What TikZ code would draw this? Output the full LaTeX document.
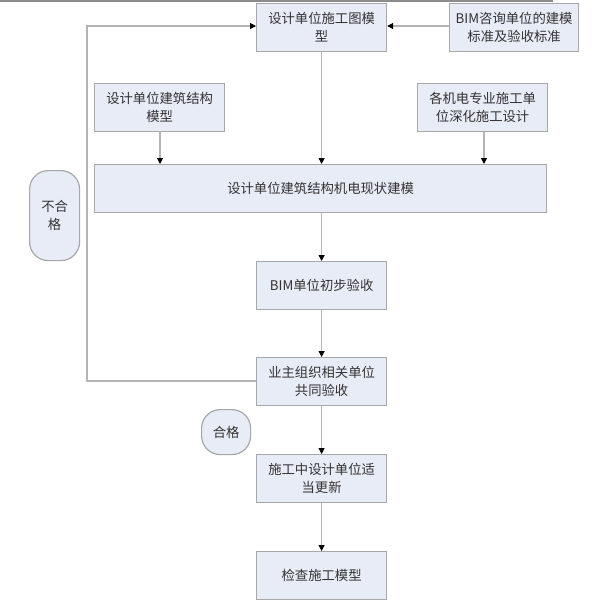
\documentclass[tikz,border=0pt]{standalone}
\usepackage{fontspec}
\newfontfamily\cjk{Noto Sans CJK SC}
\usetikzlibrary{arrows.meta}
\definecolor{boxfill}{HTML}{E8ECF7}
\definecolor{boxline}{HTML}{A8A8A8}
\definecolor{conn}{HTML}{B4B4B4}
\tikzset{
  px/.style={x=0.75pt,y=-0.75pt},
  stepbox/.style={draw=boxline,fill=boxfill,line width=0.9pt,inner sep=0pt,align=center,
    font=\cjk\fontsize{10pt}{13.5pt}\selectfont,text=black!80},
  pill/.style={stepbox,rounded corners=14pt},
  link/.style={draw=conn,line width=0.8pt,-{Triangle[length=4.5pt,width=4.5pt,fill=black,color=black]}},
  plain/.style={draw=conn,line width=0.8pt}
}
\begin{document}
\begin{tikzpicture}[px]
\useasboundingbox (0,0) rectangle (601,606);
\fill[white] (0,0) rectangle (601,606);
\draw[draw=black!45,line width=1.2pt] (0,0.8) -- (553,0.8);
% boxes: corners given in pixels
\node[stepbox,minimum width=130*0.75pt,minimum height=48*0.75pt,anchor=north west] (A) at (256,3) {设计单位施工图模\\型};
\node[stepbox,minimum width=129*0.75pt,minimum height=48*0.75pt,anchor=north west] (B) at (449,3) {BIM咨询单位的建模\\标准及验收标准};
\node[stepbox,minimum width=130*0.75pt,minimum height=48*0.75pt,anchor=north west] (C) at (94,83) {设计单位建筑结构\\模型};
\node[stepbox,minimum width=130*0.75pt,minimum height=48*0.75pt,anchor=north west] (D) at (417,83) {各机电专业施工单\\位深化施工设计};
\node[stepbox,minimum width=452*0.75pt,minimum height=48*0.75pt,anchor=north west] (E) at (94,164) {设计单位建筑结构机电现状建模};
\node[stepbox,minimum width=130*0.75pt,minimum height=48*0.75pt,anchor=north west] (F) at (256,261) {BIM单位初步验收};
\node[stepbox,minimum width=130*0.75pt,minimum height=48*0.75pt,anchor=north west] (G) at (256,357) {业主组织相关单位\\共同验收};
\node[stepbox,minimum width=130*0.75pt,minimum height=48*0.75pt,anchor=north west] (H) at (256,454) {施工中设计单位适\\当更新};
\node[stepbox,minimum width=130*0.75pt,minimum height=48*0.75pt,anchor=north west] (I) at (256,551) {检查施工模型};
\node[pill,minimum width=50*0.75pt,minimum height=90*0.75pt,anchor=north west] (N) at (29,170) {不合\\格};
\node[pill,minimum width=49*0.75pt,minimum height=45*0.75pt,anchor=north west] (P) at (201,409) {合格};
% connectors
\coordinate (fbB) at (87,381);
\coordinate (fbT) at (87,26);
\draw[link] (G.west |- 0,381) -- (fbB) -- (fbT) -- (A.west |- fbT);
\draw[link] (B.west |- 0,26) -- (A.east |- 0,26);
\draw[link] (A.south) -- (A.south |- E.north);
\draw[link] (C.south -| 160,0) -- (E.north -| 160,0);
\draw[link] (D.south -| 484,0) -- (E.north -| 484,0);
\draw[link] (E.south -| A.south) -- (F.north);
\draw[link] (F.south) -- (G.north);
\draw[link] (G.south) -- (H.north);
\draw[link] (H.south) -- (I.north);
\end{tikzpicture}
\end{document}
